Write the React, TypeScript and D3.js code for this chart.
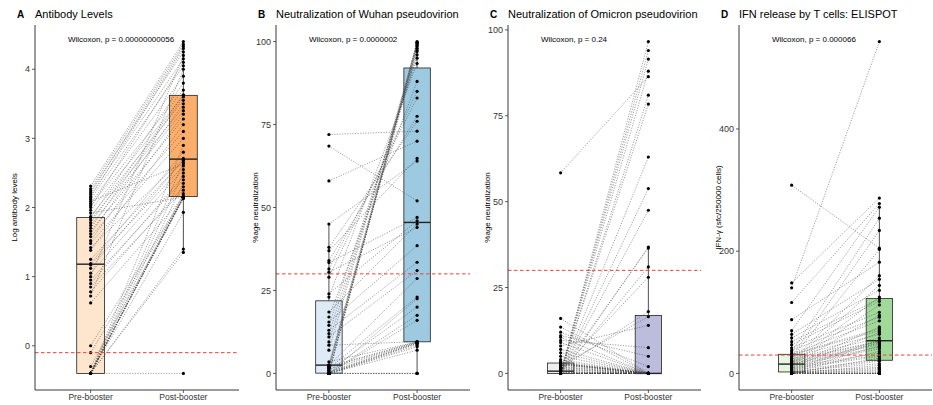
import React from 'react';
import * as d3 from 'd3';

// Panel A – log antibody levels, pre and post booster (paired by index)
const preA = [-0.4, -0.4, -0.4, -0.4, -0.4, -0.4, -0.4, -0.4, -0.4, -0.4, -0.4, -0.4, -0.4, -0.4, -0.4,
  -0.3, -0.1, 0.0, 0.62, 0.72, 0.78, 0.85, 0.9, 0.95, 1.0, 1.05, 1.12, 1.17, 1.19, 1.25, 1.38, 1.42,
  1.48, 1.52, 1.58, 1.62, 1.66, 1.7, 1.74, 1.78, 1.82, 1.85, 1.87, 1.92, 1.96, 2.0, 2.03, 2.06, 2.09,
  2.12, 2.15, 2.18, 2.21, 2.24, 2.27, 2.31];
const postA = [-0.4, 1.35, 1.4, 1.93, 2.14, 2.15, 2.15, 2.13, 2.15, 2.2, 2.35, 2.15, 2.5, 2.65, 2.9,
  2.14, 2.15, 2.16, 2.15, 4.0, 2.3, 2.25, 2.45, 2.4, 4.2, 2.55, 2.69, 2.6, 2.8, 2.68, 3.2, 2.71,
  3.0, 3.35, 3.1, 3.5, 3.28, 3.6, 3.4, 3.63, 3.45, 3.8, 3.55, 2.15, 3.62, 4.1, 3.7, 3.9, 2.63,
  4.05, 4.3, 4.15, 4.33, 4.25, 4.36, 4.4];

// Panel B – % neutralization, Wuhan pseudovirion
const preB = [0, 0, 0, 0, 0, 0, 0, 0, 0, 0, 0, 0, 0, 0.3, 0.5, 0.8, 1.0, 1.2, 1.5, 1.7, 1.8, 2.0, 2.1,
  2.3, 2.4, 2.6, 3.5, 7.0, 8.5, 9.5, 11.0, 12.0, 13.0, 14.5, 15.5, 17.0, 18.5, 23.0, 24.0, 29.0, 30.5,
  31.5, 33.4, 34.0, 37.0, 38.0, 45.0, 58.0, 68.5, 72.0];
const postB = [0, 0, 0, 7.0, 8.0, 8.5, 9.0, 16.0, 17.5, 22.5, 99.0, 99.6, 100, 9.0, 9.2, 20.0, 99.0,
  9.3, 23.0, 97.0, 9.4, 98.5, 9.5, 98.0, 28.6, 99.8, 9.5, 99.4, 9.6, 97.5, 31.0, 96.0, 33.5, 95.0,
  38.5, 88.0, 45.0, 93.4, 46.0, 85.0, 44.0, 83.0, 47.0, 77.5, 64.8, 76.0, 64.0, 70.0, 52.0, 73.0];

// Panel C – % neutralization, Omicron pseudovirion
const preC = [0, 0, 0, 0, 0, 0, 0, 0, 0, 0, 0, 0, 0, 0, 0, 0, 0, 0, 0, 0, 0, 0, 0, 0, 0, 0, 0, 0,
  0.5, 0.5, 0.8, 1.0, 1.0, 1.2, 1.5, 1.5, 1.8, 2.0, 2.2, 2.5, 2.5, 2.7, 2.8, 2.9, 3.0, 3.1, 3.5, 4.0,
  5.0, 6.0, 7.0, 8.0, 9.0, 9.6, 10.5, 11.0, 12.0, 13.5, 16.0, 58.4];
const postC = [0, 0, 0, 0, 0, 0, 0, 0, 0, 0, 0, 0, 0, 0, 0, 0, 0, 96.6, 94, 91.5, 88, 81, 78.4, 63,
  53.8, 47.5, 36.8, 31, 0, 0, 36.5, 0, 28, 0, 0, 18, 0, 0, 16.5, 0, 0, 0, 0, 0, 0, 0, 0, 0, 0, 0, 0,
  14, 0, 7.5, 0, 5, 2, 0, 0, 86.4];

// Panel D – IFN-γ ELISPOT (sfc / 250000 cells)
const preD = [0, 0, 0, 0, 0, 0, 0, 0, 0, 0, 1, 1.5, 2, 2, 2.5, 3, 4, 5, 6, 7, 8, 9, 10, 11, 12, 13, 14,
  15, 15.5, 16, 17, 18, 19, 20, 21, 22, 24, 25, 27, 28, 30, 31, 32, 35, 38, 42, 47, 52, 58, 64, 70,
  88, 116, 140, 148, 308];
const postD = [0, 0, 0, 0, 0, 0, 2, 6, 13, 25, 4, 8, 20, 10, 36, 16, 45, 22, 51, 28, 54, 30, 67, 33,
  76, 40, 95, 43, 112, 47, 125, 49, 144, 52, 160, 53, 58, 203, 64, 234, 70, 73, 86, 254, 92, 100,
  118, 122, 136, 154, 272, 182, 278, 543, 287, 205];

const groups = ['Pre-booster', 'Post-booster'];
const panelLetters = ['A', 'B', 'C', 'D'];
const panelTitles = ['Antibody Levels', 'Neutralization of Wuhan pseudovirion',
  'Neutralization of Omicron pseudovirion', 'IFN release by T cells: ELISPOT'];
const yTitles = ['Log antibody levels', '%age neutralization', '%age neutralization', 'IFN-\u03b3 (sfc/250000 cells)'];
const pLabels = ['Wilcoxon, p = 0.00000000056', 'Wilcoxon, p = 0.0000002', 'Wilcoxon, p = 0.24', 'Wilcoxon, p = 0.000066'];
const yTicks = [[0, 1, 2, 3, 4], [0, 25, 50, 75, 100], [0, 25, 50, 75, 100], [0, 200, 400]];
const cutoffs = [-0.1, 30, 30, 30];
const preFills = ['#fee6ce', '#deebf7', '#efeff2', '#e5f5e0'];
const postFills = ['#fdae6b', '#9ecae1', '#bcbddc', '#a1d99b'];

const panels = [
  { pre: preA, post: postA, left: 35, right: 239 },
  { pre: preB, post: postB, left: 276, right: 470 },
  { pre: preC, post: postC, left: 508, right: 701 },
  { pre: preD, post: postD, left: 739, right: 932 },
];

const TOP = 25;
const BOTTOM = 390;
const FONT = '"Liberation Sans", Arial, sans-serif';

function boxStats(values: number[]) {
  const s = [...values].sort(d3.ascending);
  const q1 = d3.quantile(s, 0.25)!;
  const med = d3.quantile(s, 0.5)!;
  const q3 = d3.quantile(s, 0.75)!;
  const iqr = q3 - q1;
  const lo = d3.min(s.filter(v => v >= q1 - 1.5 * iqr))!;
  const hi = d3.max(s.filter(v => v <= q3 + 1.5 * iqr))!;
  return { q1, med, q3, lo, hi };
}

function Panel({ i }: { i: number }) {
  const { pre, post, left, right } = panels[i];
  const [mn, mx] = d3.extent([...pre, ...post]) as [number, number];
  const pad = (mx - mn) * 0.05;
  const y = d3.scaleLinear().domain([mn - pad, mx + pad]).range([BOTTOM, TOP]);
  const x = d3.scaleLinear().domain([0.4, 2.6]).range([left, right]);
  const unit = x(2) - x(1);
  const boxW = unit * 0.3;
  const series = [pre, post];
  const fills = [preFills[i], postFills[i]];

  return (
    <g>
      <text x={left - 18} y={18} fontSize={10} fontWeight="bold" fontFamily={FONT}>{panelLetters[i]}</text>
      <text x={left} y={18} fontSize={11} fontFamily={FONT}>{panelTitles[i]}</text>

      {/* boxplots */}
      {series.map((vals, g) => {
        const st = boxStats(vals);
        const cx = x(g + 1);
        return (
          <g key={g}>
            <line x1={cx} x2={cx} y1={y(st.hi)} y2={y(st.q3)} stroke="#222" strokeWidth={0.8} />
            <line x1={cx} x2={cx} y1={y(st.q1)} y2={y(st.lo)} stroke="#222" strokeWidth={0.8} />
            <rect x={cx - boxW / 2} y={y(st.q3)} width={boxW} height={Math.max(0.5, y(st.q1) - y(st.q3))}
              fill={fills[g]} stroke="#222" strokeWidth={0.8} />
            <line x1={cx - boxW / 2} x2={cx + boxW / 2} y1={y(st.med)} y2={y(st.med)} stroke="#222" strokeWidth={1.4} />
          </g>
        );
      })}

      {/* paired lines */}
      {pre.map((v, k) => (
        <line key={k} x1={x(1)} y1={y(v)} x2={x(2)} y2={y(post[k])}
          stroke="#444" strokeWidth={0.6} strokeDasharray="1.2,1.4" strokeOpacity={0.85} />
      ))}

      {/* points */}
      {series.map((vals, g) => vals.map((v, k) => (
        <circle key={`${g}-${k}`} cx={x(g + 1)} cy={y(v)} r={1.6} fill="#000" />
      )))}

      {/* cutoff */}
      <line x1={left} x2={right} y1={y(cutoffs[i])} y2={y(cutoffs[i])}
        stroke="#e8443a" strokeWidth={1} strokeDasharray="3.5,2.5" />

      <text x={left + 33} y={42} fontSize={8} fontFamily={FONT}>{pLabels[i]}</text>

      {/* axes */}
      <line x1={left} x2={left} y1={TOP} y2={BOTTOM} stroke="#222" strokeWidth={0.9} />
      <line x1={left} x2={right} y1={BOTTOM} y2={BOTTOM} stroke="#222" strokeWidth={0.9} />
      {yTicks[i].map(t => (
        <g key={t}>
          <line x1={left - 3} x2={left} y1={y(t)} y2={y(t)} stroke="#333" strokeWidth={0.8} />
          <text x={left - 5} y={y(t)} dy="0.35em" textAnchor="end" fontSize={9} fill="#333" fontFamily={FONT}>{t}</text>
        </g>
      ))}
      {groups.map((gname, g) => (
        <g key={gname}>
          <line x1={x(g + 1)} x2={x(g + 1)} y1={BOTTOM} y2={BOTTOM + 3} stroke="#333" strokeWidth={0.8} />
          <text x={x(g + 1)} y={400} textAnchor="middle" fontSize={8.5} fill="#333" fontFamily={FONT}>{gname}</text>
        </g>
      ))}
      <text transform={`translate(${left - 18},${(TOP + BOTTOM) / 2}) rotate(-90)`} textAnchor="middle"
        fontSize={8} fontFamily={FONT}>{yTitles[i]}</text>
    </g>
  );
}

export default function App() {
  return (
    <svg width={933} height={405} style={{ position: 'absolute', left: 0, top: 0, background: '#fff' }}>
      <rect width={933} height={405} fill="#fff" />
      {panels.map((_, i) => <Panel key={i} i={i} />)}
    </svg>
  );
}
